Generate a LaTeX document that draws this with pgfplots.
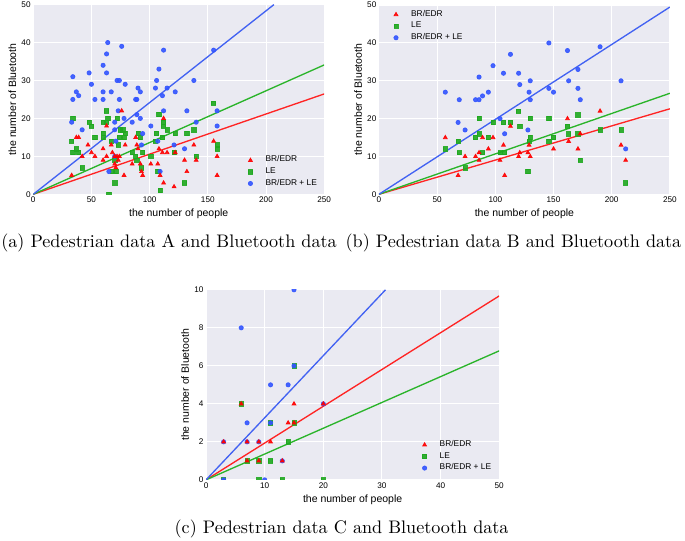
\documentclass[border=0pt]{standalone}
\usepackage{pgfplots}
\pgfplotsset{compat=1.18}
\usepackage{fontspec}
\newfontfamily\arial{Liberation Sans}
\definecolor{bgc}{HTML}{EAEAF2}
\definecolor{mred}{HTML}{FF0000}
\definecolor{mgreen}{HTML}{1FA81F}
\definecolor{mblue}{HTML}{3355FF}
\definecolor{lred}{HTML}{FF2424}
\definecolor{lgreen}{HTML}{2AB42A}
\definecolor{lblue}{HTML}{4262F2}
\pgfplotsset{
  sbstyle/.style={
    scale only axis,
    axis background/.style={fill=bgc},
    axis line style={draw=none},
    major tick length=0pt,
    grid=major,
    major grid style={white, line width=0.55pt},
    /pgf/number format/assume math mode=true,
    ticklabel style={font=\arial\fontsize{4.6}{5}\selectfont, inner sep=1.3pt},
    label style={font=\arial\fontsize{5.9}{7}\selectfont},
    xlabel={the number of people},
    ylabel={the number of Bluetooth},
    xlabel style={at={(axis description cs:0.5,-0.103)}, anchor=center},
    ylabel style={at={(axis description cs:-0.072,0.5)}, anchor=center},
    clip marker paths=true,
    legend cell align=left,
    legend style={draw=none, fill=none, inner sep=0pt, font=\arial\fontsize{4.7}{5.5}\selectfont, row sep=-2.3pt},
  },
  lgimg/.style={legend image code/.code={\draw[##1] plot coordinates {(0pt,0pt)}; \path[draw=none,fill=none] (-1.2pt,0pt) (6.5pt,0pt);}},
  rmk/.style={only marks, mark=triangle*, mark size=1.25pt, color=mred, fill opacity=0.9, draw opacity=0.9},
  gmk/.style={only marks, mark=square*, mark size=1.2pt, color=mgreen, fill opacity=0.9, draw opacity=0.9},
  bmk/.style={only marks, mark=*, mark size=1.2pt, color=mblue, fill opacity=0.9, draw opacity=0.9},
  fitline/.style={no marks, line width=0.75pt},
}
\begin{document}
\begin{tikzpicture}
\useasboundingbox (0,0) rectangle (385pt,304pt);
% ---------------- (a)
\begin{axis}[sbstyle, at={(18.7pt,194.8pt)}, anchor=south west,
  width=163.5pt, height=106.6pt,
  xmin=0, xmax=250, ymin=0, ymax=50,
  xtick={0,50,100,150,200,250}, ytick={0,10,20,30,40,50},
  legend style={at={(axis description cs:0.738,0.118)}, anchor=west}]
\addplot[fitline, lred, forget plot] coordinates {(0,0) (250,26.45)};
\addplot[fitline, lgreen, forget plot] coordinates {(0,0) (250,34.1)};
\addplot[fitline, lblue, forget plot] coordinates {(0,0) (206.8,50)};
\addplot[gmk, forget plot] coordinates {
(33,14) (34,20) (34,11) (37,12) (39,11) (42,7) (48,19) (50,18) (53,15) (60,16)
(60,15) (60,19) (63,19) (63,22) (64,20) (65,0) (67,14) (68,6) (70,3) (70,9)
(71,6) (72,20) (73,13) (74,15) (75,17) (77,17) (78,15) (79,16) (85,11) (88,10)
(89,9) (90,16) (92,15) (93,7) (94,11) (101,10) (106,16) (105,14) (107,6) (108,21)
(109,1) (111,15) (112,19) (112,18) (115,17) (121,11) (122,16) (130,3) (132,16) (138,17)
(140,10) (155,24) (158,13) (158,12)};
\addplot[bmk, forget plot] coordinates {
(33,19) (34,31) (34,25) (37,27) (39,26) (42,17) (48,32) (50,29) (53,25) (60,34)
(60,27) (60,25) (63,32) (63,37) (64,40) (65,6) (67,27) (70,19) (70,17) (71,14)
(70,10) (72,30) (74,30) (74,25) (73,22) (76,39) (78,20) (79,29) (85,19) (88,25)
(89,25) (89,21) (90,28) (92,27) (92,20) (93,13) (94,16) (101,18) (105,28) (106,30)
(107,14) (108,33) (109,6) (111,26) (112,38) (112,22) (115,28) (122,27) (121,13) (130,12)
(132,22) (138,30) (140,19) (155,38) (158,22) (158,18)};
\addplot[rmk, forget plot] coordinates {
(33,5) (37,15) (39,15) (42,10) (47,13) (50,11) (53,10) (60,12) (60,9) (63,18)
(63,10) (67,13) (68,11) (70,10) (70,8) (71,7) (72,10) (73,9) (74,10) (76,22)
(78,5) (79,13) (85,8) (88,15) (89,13) (90,12) (92,8) (93,6) (94,5) (101,8)
(107,8) (108,12) (109,5) (111,11) (112,20) (112,3) (115,11) (121,2) (122,11) (130,9)
(132,6) (138,13) (140,9) (155,14) (158,10) (158,5)};
\addlegendimage{rmk,lgimg}\addlegendentry{BR/EDR}
\addlegendimage{gmk,lgimg}\addlegendentry{LE}
\addlegendimage{bmk,lgimg}\addlegendentry{BR/EDR + LE}
\end{axis}
% ---------------- (b)
\begin{axis}[sbstyle, at={(213.0pt,194.8pt)}, anchor=south west,
  width=163.5pt, height=106.3pt,
  xmin=0, xmax=250, ymin=0, ymax=50,
  xtick={0,50,100,150,200,250}, ytick={0,10,20,30,40,50},
  legend style={at={(axis description cs:0.050,0.889)}, anchor=west}]
\addplot[fitline, lred, forget plot] coordinates {(0,0) (250,22.6)};
\addplot[fitline, lgreen, forget plot] coordinates {(0,0) (250,26.7)};
\addplot[fitline, lblue, forget plot] coordinates {(0,0) (250,49.5)};
\addplot[gmk, forget plot] coordinates {
(57,12) (68,14) (69,11) (74,7) (83,15) (86,20) (86,16) (89,11) (94,15) (98,19)
(104,11) (107,19) (108,11) (113,19) (120,22) (121,18) (128,6) (129,14) (130,15) (130,20)
(146,20) (146,14) (150,15) (162,18) (163,16) (171,21) (171,16) (173,9) (190,17) (208,17)
(212,3)};
\addplot[bmk, forget plot] coordinates {
(57,27) (68,19) (69,25) (74,17) (83,25) (86,25) (86,31) (89,26) (94,27) (98,34)
(104,20) (107,32) (108,16) (113,37) (120,32) (121,29) (128,17) (129,27) (130,30) (130,25)
(146,28) (146,40) (150,27) (162,38) (163,30) (171,33) (171,28) (173,25) (190,39) (208,30)
(212,12)};
\addplot[rmk, forget plot] coordinates {
(57,15) (68,5) (74,10) (83,10) (86,11) (86,9) (89,15) (94,12) (98,15) (104,9)
(107,13) (108,5) (113,18) (120,10) (121,11) (128,11) (129,13) (130,10) (150,12) (162,20)
(163,14) (171,12) (173,16) (190,22) (208,13) (212,9)};
\addlegendimage{rmk,lgimg}\addlegendentry{BR/EDR}
\addlegendimage{gmk,lgimg}\addlegendentry{LE}
\addlegendimage{bmk,lgimg}\addlegendentry{BR/EDR + LE}
\end{axis}
% ---------------- (c)
\begin{axis}[sbstyle, at={(115.8pt,34.3pt)}, anchor=south west,
  width=164.8pt, height=106.8pt,
  xmin=0, xmax=50, ymin=0, ymax=10,
  xtick={0,10,20,30,40,50}, ytick={0,2,4,6,8,10},
  ylabel style={at={(axis description cs:-0.0716,0.5)}},
  legend style={at={(axis description cs:0.737,0.123)}, anchor=west}]
\addplot[fitline, lred, forget plot] coordinates {(0,0) (50,9.68)};
\addplot[fitline, lgreen, forget plot] coordinates {(0,0) (50,6.79)};
\addplot[fitline, lblue, forget plot] coordinates {(0,0) (30.6,10)};
\addplot[gmk, forget plot] coordinates {
(3,0) (6,4) (7,1) (9,1) (9,0) (11,3) (11,1) (13,0) (14,2) (15,6) (15,3) (20,0)};
\addplot[bmk, forget plot] coordinates {
(3,2) (3,0) (6,8) (7,3) (7,2) (9,2) (10,0) (11,5) (11,3) (13,1) (14,5) (15,10) (15,6) (20,4)};
\addplot[rmk, forget plot] coordinates {
(3,2) (6,4) (7,2) (7,1) (9,2) (9,1) (11,2) (13,1) (14,3) (15,4) (15,3) (20,4)};
\addlegendimage{rmk,lgimg}\addlegendentry{BR/EDR}
\addlegendimage{gmk,lgimg}\addlegendentry{LE}
\addlegendimage{bmk,lgimg}\addlegendentry{BR/EDR + LE}
\end{axis}
% captions
\node[inner sep=0pt, font=\fontsize{10.2}{12}\selectfont] at (95pt,167.5pt) {(a) Pedestrian data A and Bluetooth data};
\node[inner sep=0pt, font=\fontsize{10.2}{12}\selectfont] at (288.6pt,167.5pt) {(b) Pedestrian data B and Bluetooth data};
\node[inner sep=0pt, font=\fontsize{10.2}{12}\selectfont] at (192pt,6.7pt) {(c) Pedestrian data C and Bluetooth data};
\end{tikzpicture}
\end{document}
